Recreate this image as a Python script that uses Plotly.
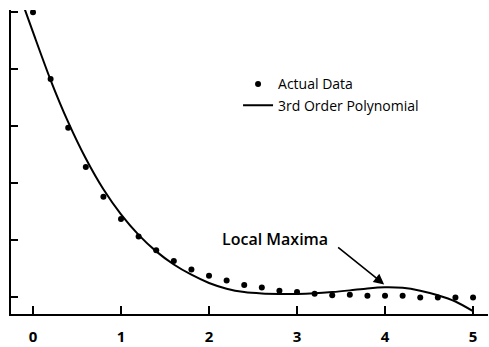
import plotly.graph_objects as go

# ---- data ----
data_x = [0.0, 0.2, 0.4, 0.6, 0.8, 1.0, 1.2, 1.4, 1.6, 1.8, 2.0, 2.2, 2.4,
          2.6, 2.8, 3.0, 3.2, 3.4, 3.6, 3.8, 4.0, 4.2, 4.4, 4.6, 4.8, 5.0]
data_y = [5.00, 3.83, 2.97, 2.28, 1.76, 1.37, 1.06, 0.82, 0.63, 0.48, 0.37, 0.29, 0.21,
          0.165, 0.11, 0.085, 0.055, 0.03, 0.04, 0.02, 0.02, 0.02, -0.01, -0.01, -0.01, -0.01]

poly_x = [-0.1, 0.0, 0.2, 0.4, 0.6, 0.8, 1.0, 1.2, 1.4, 1.6, 1.8, 2.0, 2.2, 2.4,
          2.6, 2.8, 3.0, 3.2, 3.4, 3.6, 3.8, 4.0, 4.2, 4.4, 4.6, 4.8, 5.0]
poly_y = [5.08, 4.65, 3.81, 3.07, 2.43, 1.89, 1.45, 1.09, 0.80, 0.57, 0.39, 0.245, 0.145, 0.085,
          0.06, 0.052, 0.052, 0.063, 0.085, 0.115, 0.15, 0.17, 0.16, 0.11, 0.03, -0.08, -0.25]

x_ticks = [0, 1, 2, 3, 4, 5]
x_tick_labels = ["0", "1", "2", "3", "4", "5"]
y_ticks = [0, 1, 2, 3, 4, 5]

series_names = ["Actual Data", "3rd Order Polynomial"]
annotation_text = "Local Maxima"
annot_pos = (2.75, 1.02)
arrow_tail = (3.45, 0.89)
arrow_tip = (3.99, 0.22)

x_range = [-0.25, 5.17]
y_range = [-0.30, 5.04]

FONT = "Open Sans"

fig = go.Figure()
fig.add_trace(go.Scatter(
    x=data_x, y=data_y, mode="markers", name=series_names[0],
    marker=dict(color="black", size=6), cliponaxis=True,
))
fig.add_trace(go.Scatter(
    x=poly_x, y=poly_y, mode="lines", name=series_names[1],
    line=dict(color="black", width=2, shape="spline", smoothing=0.8),
))

fig.add_annotation(
    x=annot_pos[0], y=annot_pos[1], xref="x", yref="y", text=annotation_text,
    showarrow=False, font=dict(family=FONT, size=16, color="black", weight=600),
)
fig.add_annotation(
    x=arrow_tip[0], y=arrow_tip[1], xref="x", yref="y",
    ax=arrow_tail[0], ay=arrow_tail[1], axref="x", ayref="y",
    text="", showarrow=True, arrowhead=2, arrowsize=1.3, arrowwidth=1.6,
    arrowcolor="black",
)

fig.update_layout(
    width=489, height=347,
    margin=dict(l=11, r=1, t=10, b=29),
    plot_bgcolor="white", paper_bgcolor="white",
    font=dict(family=FONT, color="black"),
    showlegend=True,
    legend=dict(
        x=0.476, y=0.808, xanchor="left", yanchor="top",
        bgcolor="rgba(0,0,0,0)", borderwidth=0,
        font=dict(family=FONT, size=14, color="black"),
        itemwidth=30, tracegroupgap=0,
    ),
    xaxis=dict(
        range=x_range, tickvals=x_ticks, ticktext=x_tick_labels,
        showgrid=False, zeroline=False,
        showline=True, linecolor="black", linewidth=2,
        ticks="inside", ticklen=8, tickwidth=1.5, tickcolor="black",
        ticklabelstandoff=8,
        tickfont=dict(family=FONT, size=15, color="black", weight=700),
    ),
    yaxis=dict(
        range=y_range, tickvals=y_ticks, showticklabels=False,
        showgrid=False, zeroline=False,
        showline=True, linecolor="black", linewidth=2,
        ticks="inside", ticklen=7, tickwidth=1.5, tickcolor="black",
    ),
    yaxis2=dict(
        range=y_range, tickvals=y_ticks, showticklabels=False,
        overlaying="y", side="right", anchor="x",
        showgrid=False, zeroline=False, showline=False,
        ticks="inside", ticklen=4, tickwidth=1.5, tickcolor="black",
    ),
)

fig.write_html(
    "out.html",
    config={"displayModeBar": False},
    post_script="document.body.style.margin='0';document.body.style.overflow='hidden';",
)
